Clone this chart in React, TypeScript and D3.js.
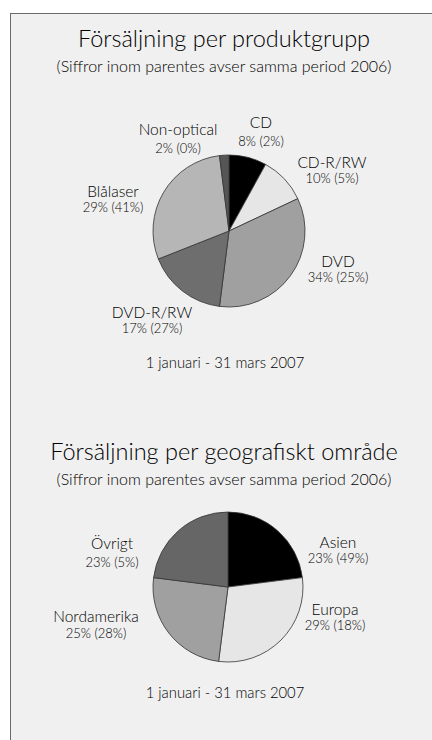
import React, { useEffect, useRef } from 'react';
import * as d3 from 'd3';

// Försäljning per produktgrupp
const productNames = ['CD', 'CD-R/RW', 'DVD', 'DVD-R/RW', 'Blålaser', 'Non-optical'];
const productShare = [8, 10, 34, 17, 29, 2];
const productPrev = [2, 5, 25, 27, 41, 0];

// Försäljning per geografiskt område
const regionNames = ['Asien', 'Europa', 'Nordamerika', 'Övrigt'];
const regionShare = [23, 29, 25, 23];
const regionPrev = [49, 18, 28, 5];

const subtitle = '(Siffror inom parentes avser samma period 2006)';
const period = '1 januari - 31 mars 2007';

const FONT = 'Lato, "Open Sans", sans-serif';

interface PieSpec {
  title: string;
  names: string[];
  share: number[];
  prev: number[];
  colors: string[];
  labelOffsets: [number, number, number][]; // dx, dy of name baseline, gap to % line
  top: number;
  dateY: number;
  cx: number;
  cy: number;
  r: number;
}

const App: React.FC = () => {
  const svgRef = useRef<SVGSVGElement | null>(null);

  useEffect(() => {
    if (!svgRef.current) return;
    const svg = d3.select(svgRef.current);
    svg.selectAll('*').remove();

    const width = 432;
    const height = 740;
    svg.attr('width', width).attr('height', height);

    svg.append('rect')
      .attr('x', 10.5).attr('y', 13.5)
      .attr('width', width + 20).attr('height', height + 20)
      .attr('fill', '#f0f0f0')
      .attr('stroke', '#6a6a6a')
      .attr('stroke-width', 1);

    const specs: PieSpec[] = [
      {
        title: 'Försäljning per produktgrupp',
        names: productNames, share: productShare, prev: productPrev,
        colors: ['#000000', '#e6e6e6', '#a0a0a0', '#6e6e6e', '#b6b6b6', '#555555'],
        labelOffsets: [[32, -103, 18], [103, -63, 15], [109, 36, 15], [-77, 87, 15], [-116, -34, 15], [-51, -96, 18]],
        top: 47, dateY: 368, cx: 229, cy: 231, r: 76,
      },
      {
        title: 'Försäljning per geografiskt område',
        names: regionNames, share: regionShare, prev: regionPrev,
        colors: ['#000000', '#e6e6e6', '#a0a0a0', '#666666'],
        labelOffsets: [[110, -39, 15], [107, 28, 15], [-132, 35, 16], [-116, -38, 18]],
        top: 460, dateY: 698, cx: 228, cy: 587, r: 75,
      },
    ];

    specs.forEach(spec => {
      const g = svg.append('g')
        .attr('font-family', FONT)
        .attr('font-weight', 300)
        .attr('fill', '#000');

      g.append('text')
        .attr('x', 224).attr('y', spec.top)
        .attr('text-anchor', 'middle')
        .attr('font-size', 23.5)
        .text(spec.title);

      g.append('text')
        .attr('x', 224).attr('y', spec.top + 25)
        .attr('text-anchor', 'middle')
        .attr('font-size', 16)
        .text(subtitle);

      const pie = d3.pie<number>().sort(null).value(d => d);
      const arcs = pie(spec.share);
      const arc = d3.arc<d3.PieArcDatum<number>>().innerRadius(0).outerRadius(spec.r);

      const pg = g.append('g').attr('transform', `translate(${spec.cx},${spec.cy})`);
      pg.selectAll('path')
        .data(arcs)
        .enter().append('path')
        .attr('d', arc)
        .attr('fill', (_, i) => spec.colors[i])
        .attr('stroke', '#333')
        .attr('stroke-width', 0.8);

      arcs.forEach((a, i) => {
        const [dx, dy, gap] = spec.labelOffsets[i];
        pg.append('text')
          .attr('x', dx).attr('y', dy)
          .attr('text-anchor', 'middle')
          .attr('font-size', 15.5)
          .text(spec.names[i]);
        pg.append('text')
          .attr('x', dx).attr('y', dy + gap)
          .attr('text-anchor', 'middle')
          .attr('font-size', 13)
          .text(`${a.data}% (${spec.prev[i]}%)`);
      });

      g.append('text')
        .attr('x', 225).attr('y', spec.dateY)
        .attr('text-anchor', 'middle')
        .attr('font-size', 14.8)
        .text(period);
    });
  }, []);

  return <svg ref={svgRef} style={{ position: 'absolute', left: 0, top: 0 }}></svg>;
};

export default App;
